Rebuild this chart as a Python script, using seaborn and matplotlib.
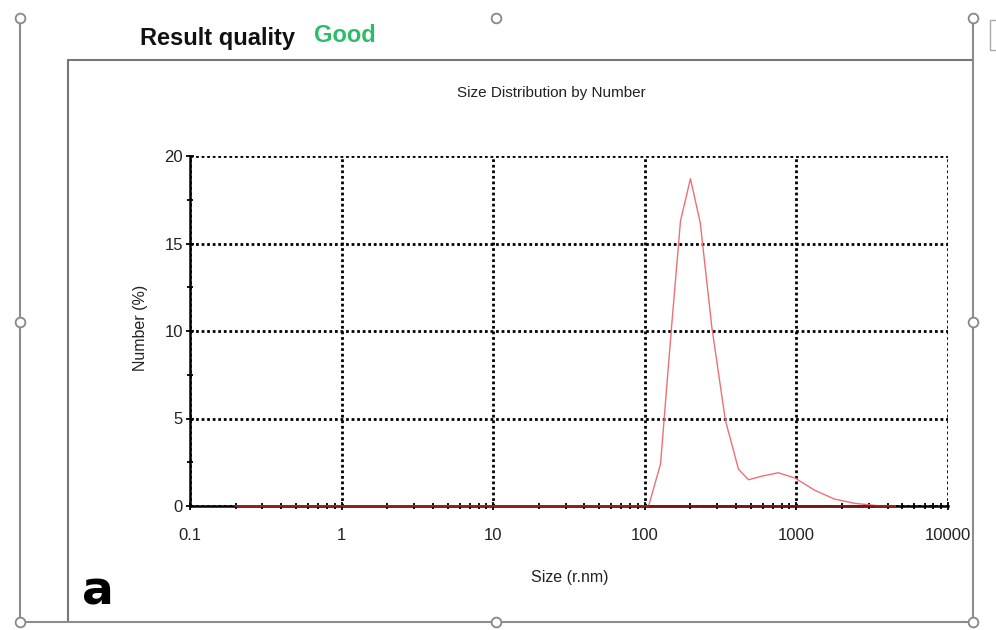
import matplotlib
matplotlib.use("Agg")
import matplotlib.pyplot as plt
import matplotlib.ticker as mticker
from matplotlib.lines import Line2D
from matplotlib.patches import Rectangle
import pandas as pd
import seaborn as sns

# size distribution by number
sizes = [0.2, 0.5, 1, 2, 5, 10, 20, 50, 100, 106, 110, 127, 150, 172, 200,
         232, 277, 340, 415, 483, 589, 758, 977, 1320, 1780, 2425, 3600, 4500]
numbers = [0, 0, 0, 0, 0, 0, 0, 0, 0, 0, 0.5, 2.4, 10.2, 16.3, 18.7,
           16.2, 10.2, 4.9, 2.1, 1.5, 1.7, 1.9, 1.6, 0.9, 0.4, 0.15, 0, 0]
x_ticks = [0.1, 1, 10, 100, 1000, 10000]
x_labels = ["0.1", "1", "10", "100", "1000", "10000"]
y_ticks = [0, 5, 10, 15, 20]

sns.set_style("white")
plt.rcParams['font.family'] = ['Liberation Sans', 'DejaVu Sans']

df = pd.DataFrame({"size": sizes, "number": numbers})

W, H = 996, 630
fig = plt.figure(figsize=(W / 100, H / 100), dpi=100)
ax = fig.add_axes([190 / W, 1 - 506 / H, (948 - 190) / W, (506 - 156) / H])

sns.lineplot(data=df, x="size", y="number", ax=ax, color="#ef6f74", linewidth=1.0,
             zorder=5, clip_on=False)
# dark red trace where the curve lies on the axis
sns.lineplot(data=df[df["number"] == 0], x="size", y="number", ax=ax,
             color="#8b1a1a", linewidth=1.2, zorder=6, clip_on=False)

ax.set_xscale("log")
ax.set_xlim(0.1, 10000)
ax.set_ylim(0, 20)
ax.set_xticks(x_ticks)
ax.set_xticklabels(x_labels)
ax.xaxis.set_minor_locator(mticker.LogLocator(base=10, subs=range(2, 10)))
ax.xaxis.set_minor_formatter(mticker.NullFormatter())
ax.set_yticks(y_ticks)
ax.yaxis.set_minor_locator(mticker.MultipleLocator(2.5))

ax.grid(True, which="major", color="black", linestyle=(0, (1, 1)), linewidth=2.0)
ax.tick_params(axis="both", which="major", direction="inout", length=6, width=1.3,
               labelsize=12, colors="black", labelcolor="#222222")
ax.tick_params(axis="x", which="major", pad=13)
ax.tick_params(axis="y", which="major", pad=2)
ax.tick_params(axis="both", which="minor", direction="inout", length=5, width=1.3,
               colors="black")
ax.tick_params(axis="x", which="both", bottom=True)
ax.tick_params(axis="y", which="both", left=True)

for side in ["top", "right"]:
    ax.spines[side].set_visible(False)
for side in ["left", "bottom"]:
    ax.spines[side].set_color("black")
    ax.spines[side].set_linewidth(1.8)

ax.set_xlabel("Size (r.nm)", fontsize=11.5, color="#222222")
ax.set_ylabel("Number (%)", fontsize=11.5, color="#222222")
ax.xaxis.set_label_coords((570 - 190) / (948 - 190), -(570 - 506) / (506 - 156))
ax.yaxis.set_label_coords(-(190 - 148) / (948 - 190), (506 - 328) / (506 - 156))

fig.text(551 / W, 1 - 93 / H, "Size Distribution by Number", ha="center", va="center",
         fontsize=11, color="#222222")
fig.text(140 / W, 1 - 38 / H, "Result quality", ha="left", va="center",
         fontsize=17, fontweight="bold", color="#111111")
fig.text(314 / W, 1 - 36 / H, "Good", ha="left", va="center",
         fontsize=17, fontweight="bold", color="#2dbb6c")
fig.text(82 / W, 1 - 592 / H, "a", ha="left", va="center", fontsize=34,
         fontweight="bold", color="black", family="DejaVu Sans")

# chart border and selection frame
def fline(xs, ys, color="#8c8c8c", lw=1.5):
    fig.add_artist(Line2D([x / W for x in xs], [1 - y / H for y in ys],
                          transform=fig.transFigure, color=color, linewidth=lw))

fline([68, 973], [60, 60], color="#777777")
fline([68, 68], [60, 622], color="#777777")
fline([20, 20], [22, 622])
fline([973, 973], [22, 622])
fline([20, 973], [622, 622])

for hx, hy in [(20, 18), (496, 18), (973, 18), (20, 322), (973, 322),
               (20, 622), (496, 622), (973, 622)]:
    fig.add_artist(Line2D([hx / W], [1 - hy / H], transform=fig.transFigure,
                          marker="o", markersize=7, markerfacecolor="white",
                          markeredgecolor="#888888", markeredgewidth=1.3))

fig.add_artist(Rectangle((990 / W, 1 - 50 / H), 12 / W, 30 / H, transform=fig.transFigure,
                         fill=False, edgecolor="#aaaaaa", linewidth=1.0))

fig.savefig("out.png", dpi=100)
